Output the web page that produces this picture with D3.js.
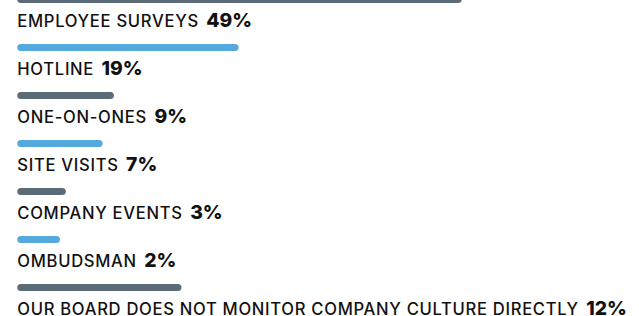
<!DOCTYPE html>
<html>
<head>
<meta charset="utf-8">
<script src="https://cdn.jsdelivr.net/npm/d3@7"></script>
<style>
  body { margin: 0; background: #fff; }
  svg { display: block; }
  .lbl { font-family: Inter, sans-serif; font-weight: 500; fill: #111; letter-spacing: 0.7px; }
  .pct { font-family: Inter, sans-serif; font-weight: 800; fill: #111; }
</style>
</head>
<body>
<div id="chart"></div>
<script>
const categories = ['EMPLOYEE SURVEYS', 'HOTLINE', 'ONE-ON-ONES', 'SITE VISITS', 'COMPANY EVENTS', 'OMBUDSMAN',
  'OUR BOARD DOES NOT MONITOR COMPANY CULTURE DIRECTLY'];
const percents = [49, 19, 9, 7, 3, 2, 12];
// the bars in the source are not drawn to scale, so these are the bar lengths as read off the picture (in % units)
const barLengths = [49, 24.4, 10.65, 9.4, 5.35, 4.7, 18.1];
const barColors = ['#5b6b77', '#56a9dc'];

const width = 639, height = 316;
const svg = d3.select('#chart').append('svg')
  .attr('width', width)
  .attr('height', height);

const x = d3.scaleLinear().domain([0, 49]).range([17.3, 461.7]);
const y = d3.scalePoint().domain(categories).range([-0.5, 287.5]);
const barH = 7;

const rows = svg.selectAll('g.row')
  .data(categories)
  .join('g')
  .attr('class', 'row');

rows.append('rect')
  .attr('x', x(0))
  .attr('y', d => y(d) - barH / 2)
  .attr('width', (d, i) => x(barLengths[i]) - x(0))
  .attr('height', barH)
  .attr('rx', barH / 2)
  .attr('fill', (d, i) => barColors[i % 2]);

rows.append('text')
  .attr('class', 'lbl')
  .attr('x', x(0))
  .attr('y', d => y(d) + 27)
  .style('font-size', '16.6px')
  .text(d => d);

rows.each(function (d, i) {
  const g = d3.select(this);
  const w = g.select('text.lbl').node().getComputedTextLength();
  g.append('text')
    .attr('class', 'pct')
    .attr('x', x(0) + w + 7.5)
    .attr('y', y(d) + 27)
    .style('font-size', '19.3px')
    .text(percents[i] + '%');
});
</script>
</body>
</html>
